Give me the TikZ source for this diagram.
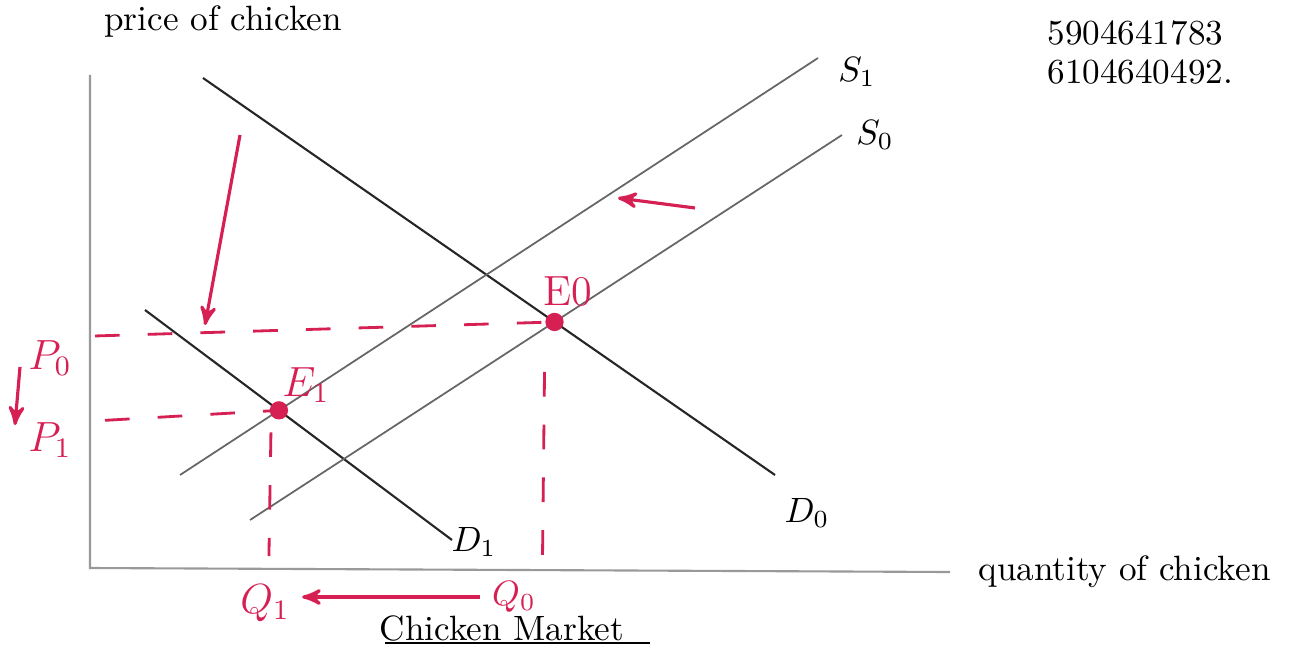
\documentclass[tikz,border=0pt]{standalone}
\usetikzlibrary{arrows,calc}
\definecolor{PenClr}{rgb}{0.84,0.12,0.32}
\definecolor{AxisClr}{rgb}{0.6,0.6,0.6}

\begin{document}
\begin{tikzpicture}[x=0.01cm,y=-0.01cm,
  axis/.style={AxisClr,line width=0.6pt},
  demand/.style={black!85,line width=0.6pt},
  supply/.style={black!60,line width=0.5pt},
  guide/.style={PenClr,line width=0.8pt,dash pattern=on 7pt off 8pt},
  shiftarrow/.style={PenClr,line width=0.9pt,-stealth'},
  pen/.style={PenClr,font=\large},
  hand/.style={black,font=\normalsize}]
\useasboundingbox (0,0) rectangle (1295,646);

\coordinate (O) at (90,568);
\coordinate (Ytop) at (90,75);
\coordinate (Xend) at (950,572);
\draw[axis] (Ytop) -- (O) -- (Xend);

\coordinate (D0a) at (203,78);  \coordinate (D0b) at (775,475);
\coordinate (D1a) at (145,310); \coordinate (D1b) at (452,540);
\coordinate (S0a) at (250,520); \coordinate (S0b) at (842,135);
\coordinate (S1a) at (180,475); \coordinate (S1b) at (818,58);

\draw[demand] (D0a) -- (D0b);
\draw[demand] (D1a) -- (D1b);
\draw[supply] (S0a) -- (S0b);
\draw[supply] (S1a) -- (S1b);

\coordinate (E0) at (intersection of D0a--D0b and S0a--S0b);
\coordinate (E1) at (intersection of D1a--D1b and S1a--S1b);

\draw[guide] ($(E0 -| O)+(5,14)$) -- (E0);
\draw[guide] ($(E1 -| O)+(15,10)$) -- (E1);
\draw[guide] ($(E0)+(-10,50)$) -- ($(E0 |- O)+(-12,-12)$);
\draw[guide] ($(E1)+(-8,22)$) -- ($(E1 |- O)+(-10,-12)$);

\fill[PenClr] (E0) circle (2.6pt);
\fill[PenClr] (E1) circle (2.6pt);

\node[pen] (lblE0) at (568,292) {E0};
\node[pen] (lblE1) at (306,385) {$E_1$};
\node[pen] (lblP0) at (50,358) {$P_0$};
\node[pen] (lblP1) at (50,440) {$P_1$};
\node[pen] (lblQ1) at (265,603) {$Q_1$};
\node[PenClr,font=\normalsize] (lblQ0) at (514,597) {$Q_0$};

\node[hand] (lblS1) at (857,72) {$S_1$};
\node[hand] (lblS0) at (875,135) {$S_0$};
\node[hand] (lblD1) at (474,542) {$D_1$};
\node[hand] (lblD0) at (807,513) {$D_0$};

\node[hand,anchor=west] (ylab) at (92,22) {price of chicken};
\node[hand,anchor=west] (xlab) at (966,572) {quantity of chicken};
\node[hand] (market) at (502,628) {Chicken Market};
\draw[black,line width=0.8pt] (385,643) -- (650,643);

\node[hand,anchor=west] (id1) at (1035,33) {5904641783};
\node[hand,anchor=west] (id2) at (1035,72) {6104640492.};

\coordinate (dTop) at (240,135);   \coordinate (dTip) at (205,325);
\coordinate (sTail) at (695,208);  \coordinate (sTip) at (618,198);
\coordinate (pTail) at (20,367);   \coordinate (pTip) at (15,425);
\draw[shiftarrow] (dTop) -- (dTip);
\draw[shiftarrow] (sTail) -- (sTip);
\draw[shiftarrow] (pTail) -- (pTip);
\draw[shiftarrow] (lblQ0.west) -- (lblQ0.west -| lblQ1.east);

\end{tikzpicture}
\end{document}
